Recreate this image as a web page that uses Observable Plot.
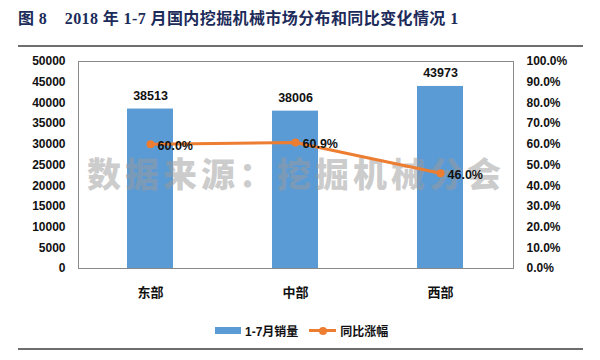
<!DOCTYPE html>
<html>
<head>
<meta charset="utf-8">
<script src="https://cdn.jsdelivr.net/npm/d3@7"></script>
<script src="https://cdn.jsdelivr.net/npm/@observablehq/plot@0.6"></script>
<style>
  body { margin: 0; background: #fff; width: 600px; height: 360px; overflow: hidden;
         font-family: "Liberation Sans", "Noto Sans CJK SC", sans-serif; }
  #title { margin-left: 18px; width: 565px; height: 47px; box-sizing: border-box;
           border-bottom: 2px solid #6e6e6e; padding-top: 9px; line-height: 20px;
           font-family: "Liberation Serif", "Noto Sans CJK SC", serif; font-weight: bold;
           font-size: 16px; letter-spacing: 0.4px; color: #1c2b5a; white-space: pre; }
  #chart { height: 266px; }
  #legend { margin-left: 18px; width: 565px; height: 37px; box-sizing: border-box;
            border-bottom: 2px solid #6e6e6e; display: flex; align-items: center;
            padding-left: 197px; font-weight: bold; font-size: 12px; color: #111; }
  #legend .sw { display: inline-block; width: 26px; height: 7px; margin-right: 4px; }
  #legend .ln { display: inline-block; position: relative; width: 27px; height: 3px; margin-right: 4px; margin-left: 11px; }
  #legend .ln i { position: absolute; left: 9.5px; top: -2.5px; width: 8px; height: 8px; border-radius: 50%; }
</style>
</head>
<body>
<div id="title"></div>
<div id="chart"></div>
<div id="legend"></div>
<script>
const titleText = "图 8    2018 年 1-7 月国内挖掘机械市场分布和同比变化情况 1";
const regions = ["东部", "中部", "西部"];
const sales = [38513, 38006, 43973];
const growth = [60.0, 60.9, 46.0];
const leftTicks = [0, 5000, 10000, 15000, 20000, 25000, 30000, 35000, 40000, 45000, 50000];
const pctTicks = [0, 10, 20, 30, 40, 50, 60, 70, 80, 90, 100];
const seriesNames = ["1-7月销量", "同比涨幅"];
const watermark = "数据来源：挖掘机械分会";
const yMax = 50000, pctMax = 100;
const barColor = "#5b9bd5", lineColor = "#ed7d31";

document.getElementById("title").textContent = titleText;

const rows = regions.map((r, i) => ({
  region: r, sales: sales[i], growth: growth[i], gy: growth[i] / pctMax * yMax
}));

const chart = Plot.plot({
  width: 600, height: 266,
  marginTop: 14, marginBottom: 45, marginLeft: 78, marginRight: 87,
  style: { fontFamily: '"Liberation Sans", "Noto Sans CJK SC", sans-serif', fontWeight: "bold", color: "#111", background: "transparent" },
  x: { domain: regions, paddingInner: 0.68, paddingOuter: 0.34 },
  y: { domain: [0, yMax] },
  marks: [
    Plot.barY(rows, { x: "region", y: "sales", fill: barColor }),
    Plot.frame({ stroke: "#8a8a8a" }),
    Plot.text(rows, { x: "region", y: "sales", text: d => String(d.sales), dy: -13, fontSize: 12.5, fill: "#111" }),
    Plot.text([watermark], { frameAnchor: "middle", text: d => d, fontSize: 34, fontWeight: 900, fill: "#999", fillOpacity: 0.5, dy: 11 }),
    Plot.line(rows, { x: "region", y: "gy", stroke: lineColor, strokeWidth: 3 }),
    Plot.dot(rows, { x: "region", y: "gy", r: 4, fill: lineColor }),
    Plot.text(rows, { x: "region", y: "gy", text: d => d.growth.toFixed(1) + "%", textAnchor: "start", dx: 7, dy: 2, fontSize: 12.5, fill: "#111" }),
    Plot.axisY({ ticks: leftTicks, tickSize: 0, tickPadding: 13, fontSize: 12, label: null, tickFormat: d => String(d) }),
    Plot.axisY({ anchor: "right", ticks: pctTicks.map(p => p / pctMax * yMax), tickSize: 0, tickPadding: 13, fontSize: 12, label: null,
                 tickFormat: d => (d / yMax * pctMax).toFixed(1) + "%" }),
    Plot.axisX({ tickSize: 0, tickPadding: 19, fontSize: 13, label: null })
  ]
});
document.getElementById("chart").appendChild(chart);
d3.select(chart).selectAll("text").filter(function () { return this.textContent === watermark; })
  .style("letter-spacing", "4px");

const legend = document.getElementById("legend");
seriesNames.forEach((name, i) => {
  const mk = document.createElement("span");
  if (i === 0) { mk.className = "sw"; mk.style.background = barColor; }
  else { mk.className = "ln"; mk.style.background = lineColor; const dot = document.createElement("i"); dot.style.background = lineColor; mk.appendChild(dot); }
  legend.appendChild(mk);
  const t = document.createElement("span");
  t.className = "lt"; t.textContent = name;
  legend.appendChild(t);
});
</script>
</body>
</html>
